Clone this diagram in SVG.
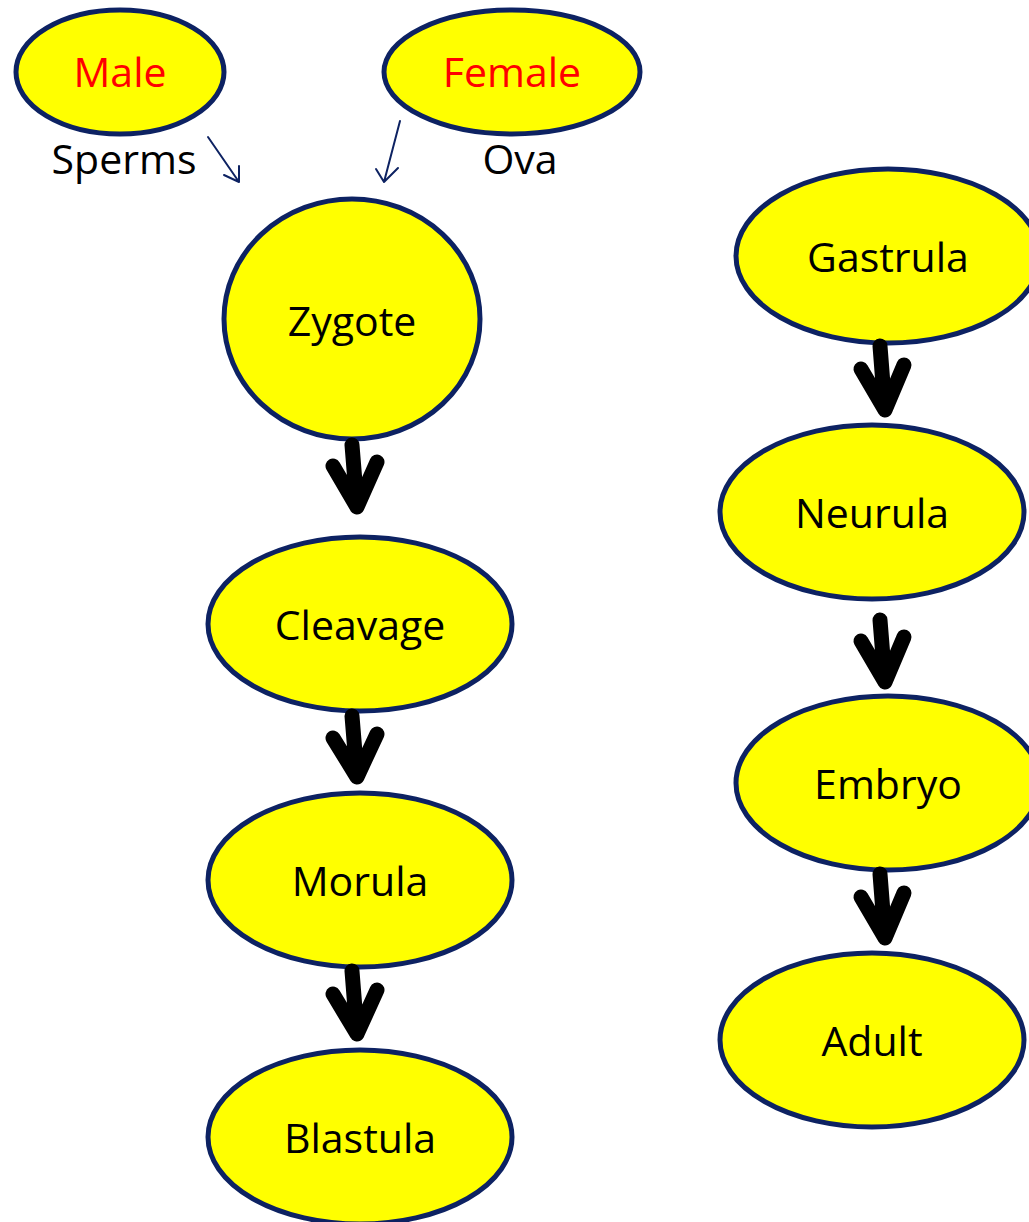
<svg xmlns="http://www.w3.org/2000/svg" width="1029" height="1222" viewBox="0 0 1029 1222">
<style>
.n{fill:#ffff00;stroke:#0d2262;stroke-width:5}
.t{font-family:"Open Sans","Liberation Sans",sans-serif;font-size:41px;fill:#000;text-anchor:middle}
.r{fill:#ff0000}
.big{fill:none;stroke:#000;stroke-width:15;stroke-linecap:round;stroke-linejoin:round}
.thin{fill:none;stroke:#0d2262;stroke-width:2;stroke-linecap:round;stroke-linejoin:round}
</style>
<rect width="1029" height="1222" fill="#fff"/>
<g id="male"><ellipse class="n" cx="120" cy="72" rx="104" ry="62"/><text class="t r" x="120" y="87">Male</text></g>
<g id="female"><ellipse class="n" cx="512" cy="72" rx="128" ry="62"/><text class="t r" x="512" y="87">Female</text></g>
<g id="zygote"><ellipse class="n" cx="352" cy="319" rx="128" ry="120"/><text class="t" x="352" y="336">Zygote</text></g>
<g id="cleavage"><ellipse class="n" cx="360" cy="624" rx="152" ry="87"/><text class="t" x="360" y="640">Cleavage</text></g>
<g id="morula"><ellipse class="n" cx="360" cy="880" rx="152" ry="87"/><text class="t" x="360" y="896">Morula</text></g>
<g id="blastula"><ellipse class="n" cx="360" cy="1137" rx="152" ry="87"/><text class="t" x="360" y="1153">Blastula</text></g>
<g id="gastrula"><ellipse class="n" cx="888" cy="256" rx="152" ry="87"/><text class="t" x="888" y="272">Gastrula</text></g>
<g id="neurula"><ellipse class="n" cx="872" cy="512" rx="152" ry="87"/><text class="t" x="872" y="528">Neurula</text></g>
<g id="embryo"><ellipse class="n" cx="888" cy="783" rx="152" ry="87"/><text class="t" x="888" y="799">Embryo</text></g>
<g id="adult"><ellipse class="n" cx="872" cy="1040" rx="152" ry="87"/><text class="t" x="872" y="1056">Adult</text></g>
<g id="labels">
<text class="t" x="124" y="174">Sperms</text>
<text class="t" x="520" y="174">Ova</text>
</g>
<g id="connectors">
<path class="thin" d="M208,137 L239,182 M239,166 L239,182 L224,175"/>
<path class="thin" d="M400,121 L384,182 M376,169 L384,182 L398,168"/>
<path class="big" d="M352,445 L357,507 M333,466 L357,507 L377,462"/>
<path class="big" d="M352,716 L357,777 M333,738 L357,777 L377,734"/>
<path class="big" d="M352,971 L357,1034 M333,994 L357,1034 L377,990"/>
<path class="big" d="M880,346 L885,410 M861,369 L885,410 L904,365"/>
<path class="big" d="M880,620 L885,682 M861,641 L885,682 L904,637"/>
<path class="big" d="M880,874 L885,938 M861,897 L885,938 L904,893"/>
</g>
</svg>
